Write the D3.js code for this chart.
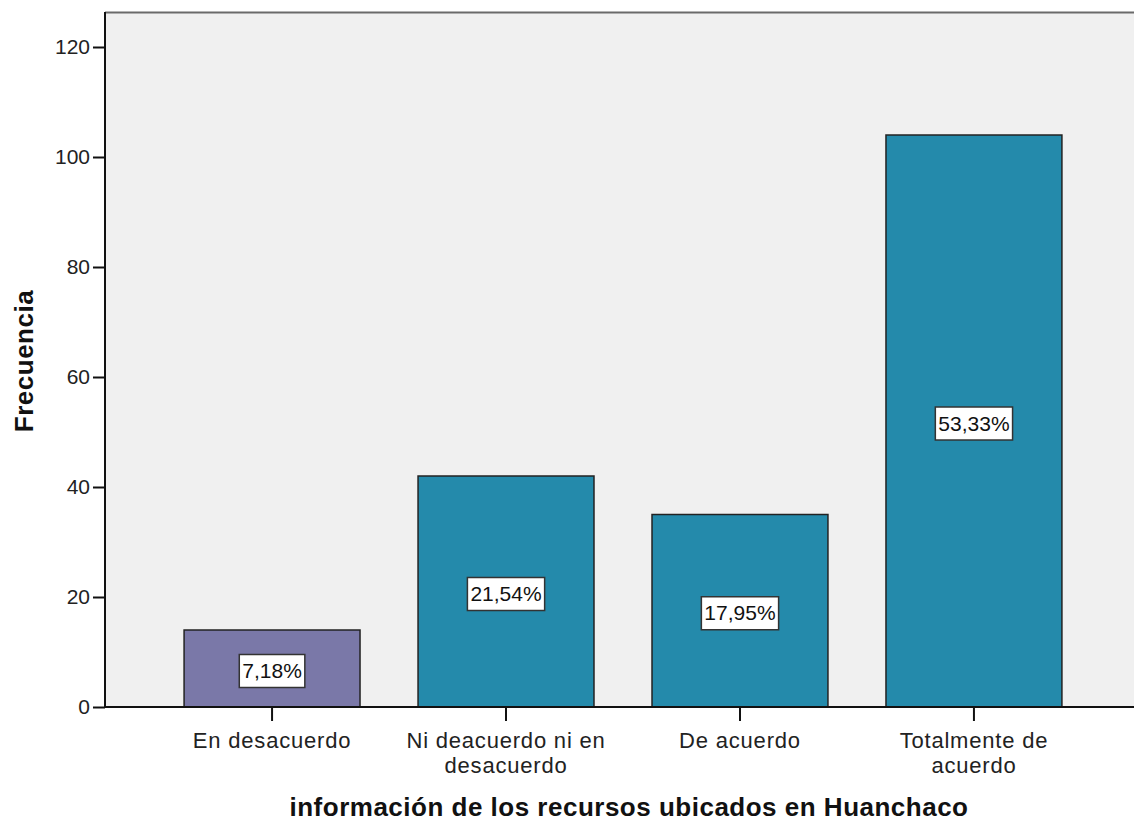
<!DOCTYPE html>
<html>
<head>
<meta charset="utf-8">
<script src="https://cdn.jsdelivr.net/npm/d3@7"></script>
<style>
  html, body { margin: 0; padding: 0; background: #fff; }
  svg { display: block; font-family: "Liberation Sans", Arial, sans-serif; }
</style>
</head>
<body>
<div id="chart"></div>
<script>
// data
const categories = ["En desacuerdo", "Ni deacuerdo ni en desacuerdo", "De acuerdo", "Totalmente de acuerdo"];
const categoryLines = [["En desacuerdo"], ["Ni deacuerdo ni en", "desacuerdo"], ["De acuerdo"], ["Totalmente de", "acuerdo"]];
const counts = [14, 42, 35, 104];
const percentLabels = ["7,18%", "21,54%", "17,95%", "53,33%"];
const barColors = ["#7a78a8", "#248aab", "#248aab", "#248aab"];
const yTicks = [0, 20, 40, 60, 80, 100, 120];

const W = 1134, H = 825;
const plot = { left: 105, right: 1141, top: 12, bottom: 707 };

const svg = d3.select("#chart").append("svg")
  .attr("width", W).attr("height", H);

const y = d3.scaleLinear().domain([0, 120]).range([plot.bottom, 47]);
const x = d3.scaleBand().domain(categories)
  .range([plot.left, plot.right])
  .paddingInner(0.248).paddingOuter(0.338);

// plot background
svg.append("rect")
  .attr("x", plot.left).attr("y", plot.top)
  .attr("width", plot.right - plot.left).attr("height", plot.bottom - plot.top)
  .attr("fill", "#f0f0f0");

svg.append("line")
  .attr("x1", plot.left).attr("x2", plot.right)
  .attr("y1", plot.top + 0.5).attr("y2", plot.top + 0.5)
  .attr("stroke", "#6a6a6a").attr("stroke-width", 2);

// bars
const bars = svg.append("g");
bars.selectAll("rect")
  .data(counts)
  .join("rect")
  .attr("x", (d, i) => x(categories[i]))
  .attr("y", d => y(d))
  .attr("width", x.bandwidth())
  .attr("height", d => y(0) - y(d))
  .attr("fill", (d, i) => barColors[i])
  .attr("stroke", "#222")
  .attr("stroke-width", 1.5);

// percent labels
const labels = svg.append("g")
  .selectAll("g")
  .data(counts)
  .join("g")
  .attr("transform", (d, i) => `translate(${x(categories[i]) + x.bandwidth() / 2},${(y(d) + y(0)) / 2 + 2})`);

labels.append("text")
  .attr("text-anchor", "middle")
  .attr("dy", "0.36em")
  .style("font-size", "21px")
  .attr("fill", "#111")
  .text((d, i) => percentLabels[i]);

labels.each(function () {
  const g = d3.select(this);
  const bb = g.select("text").node().getBBox();
  g.insert("rect", "text")
    .attr("x", bb.x - 3).attr("y", -16)
    .attr("width", bb.width + 6).attr("height", 33)
    .attr("fill", "#fff")
    .attr("stroke", "#333").attr("stroke-width", 1.5);
});

// y axis
const yAxis = svg.append("g")
  .attr("transform", `translate(${plot.left},0)`)
  .call(d3.axisLeft(y).tickValues(yTicks).tickSize(12).tickPadding(3).tickFormat(d3.format("d")));
yAxis.select(".domain").remove();
yAxis.selectAll(".tick line").attr("stroke", "#111").attr("stroke-width", 2);
yAxis.selectAll(".tick text").style("font-size", "21px").attr("fill", "#222");
svg.append("line")
  .attr("x1", plot.left).attr("x2", plot.left)
  .attr("y1", plot.top).attr("y2", plot.bottom + 1)
  .attr("stroke", "#111").attr("stroke-width", 2);

// x axis
const xAxis = svg.append("g")
  .attr("transform", `translate(0,${plot.bottom})`)
  .call(d3.axisBottom(x).tickSize(14).tickFormat(""));
xAxis.select(".domain").remove();
xAxis.selectAll(".tick line").attr("stroke", "#111").attr("stroke-width", 2);
svg.append("line")
  .attr("x1", plot.left).attr("x2", plot.right)
  .attr("y1", plot.bottom).attr("y2", plot.bottom)
  .attr("stroke", "#111").attr("stroke-width", 2);

const catText = svg.append("g")
  .selectAll("text")
  .data(categories)
  .join("text")
  .attr("x", d => x(d) + x.bandwidth() / 2)
  .attr("y", 748)
  .attr("text-anchor", "middle")
  .style("font-size", "22px")
  .style("letter-spacing", "0.8px")
  .attr("fill", "#222");
catText.each(function (d, i) {
  const t = d3.select(this);
  categoryLines[i].forEach((line, j) => {
    t.append("tspan")
      .attr("x", x(d) + x.bandwidth() / 2)
      .attr("dy", j === 0 ? 0 : 25)
      .text(line);
  });
});

// titles
svg.append("text")
  .attr("x", 629).attr("y", 816)
  .attr("text-anchor", "middle")
  .style("font-size", "26px")
  .style("letter-spacing", "0.5px")
  .style("font-weight", "bold")
  .attr("fill", "#111")
  .text("información de los recursos ubicados en Huanchaco");

svg.append("text")
  .attr("transform", "translate(33,361) rotate(-90)")
  .attr("text-anchor", "middle")
  .style("font-size", "26px")
  .style("letter-spacing", "0.5px")
  .style("font-weight", "bold")
  .attr("fill", "#111")
  .text("Frecuencia");
</script>
</body>
</html>
